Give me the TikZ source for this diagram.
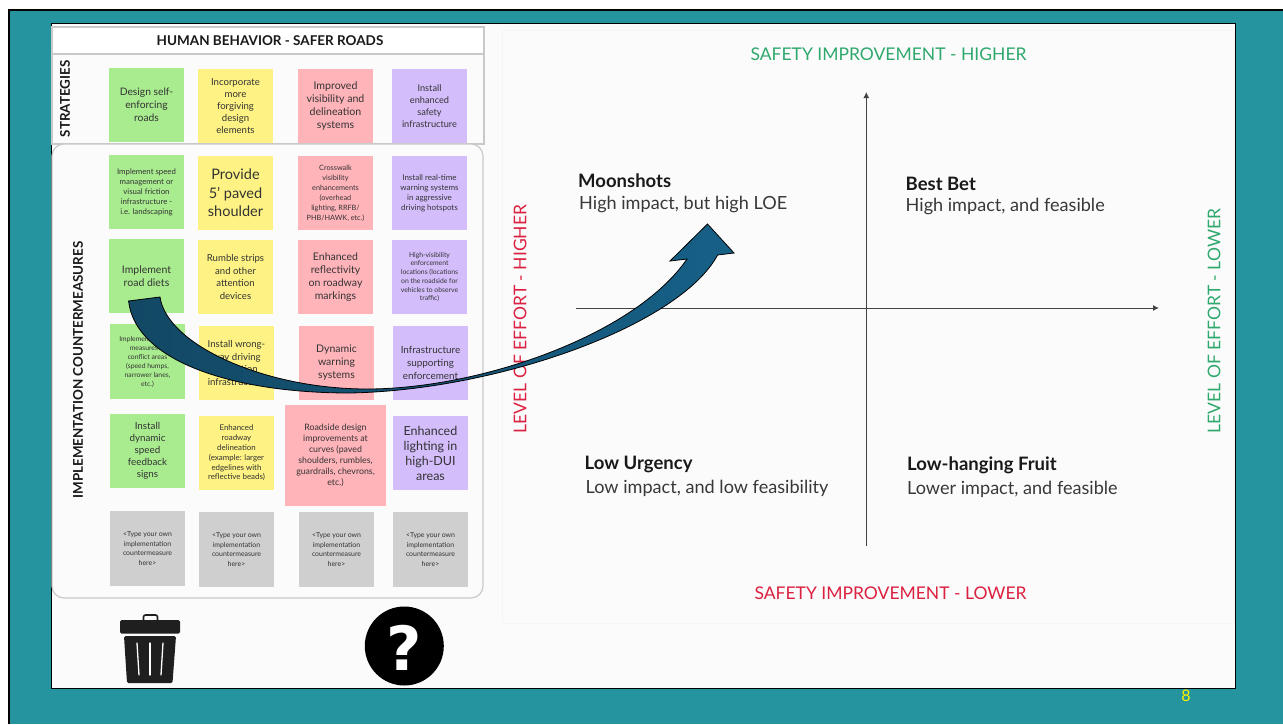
\documentclass[tikz,border=0pt]{standalone}
\usepackage{fontspec}
\setmainfont{Lato}
\newfontfamily\qfont{DejaVu Sans}
\usetikzlibrary{arrows.meta}
\definecolor{teal0}{HTML}{26949E}
\definecolor{paper}{HTML}{FBFBFB}
\definecolor{panelline}{HTML}{C9C9C9}
\definecolor{ngreen}{HTML}{A9EC90}
\definecolor{nyellow}{HTML}{FDF283}
\definecolor{npink}{HTML}{FFB4BA}
\definecolor{npurple}{HTML}{D3BDFB}
\definecolor{ngray}{HTML}{CFCFCF}
\definecolor{ink}{HTML}{333333}
\definecolor{goodgreen}{HTML}{2FA86E}
\definecolor{badred}{HTML}{DC2040}
\definecolor{axisgray}{HTML}{444444}
\definecolor{iconblack}{HTML}{1F1F1F}
\definecolor{arrowdark}{RGB}{18,72,100}
\definecolor{arrowlight}{RGB}{23,96,135}
\tikzset{
  notebox/.style={inner sep=0pt,align=center,text=ink},
  panel/.style={draw=panelline,line width=1.2pt},
  axisline/.style={draw=axisgray,line width=1pt,-{Latex[length=6pt,width=6pt]}},
  heading/.style={anchor=west,inner sep=0pt,font=\fontsize{18.5}{20}\selectfont\bfseries,text=black!90},
  subheading/.style={anchor=west,inner sep=0pt,font=\fontsize{18.1}{20}\selectfont,text=black!78},
  axistext/.style={inner sep=0pt,font=\fontsize{17.5}{20}\selectfont},
  sidetitle/.style={inner sep=0pt,rotate=90,font=\fontsize{13.4}{15}\selectfont\bfseries,text=black!90},
}
\newcommand{\notecard}[9]{%
  \node[notebox,fill=#6,minimum width={(#4-#2)*1pt},minimum height={(#5-#3)*1pt},
        font=\fontsize{#7}{#8}\selectfont] (#1) at ({(#2+#4)/2},{(#3+#5)/2}) {#9};}
\begin{document}
\begin{tikzpicture}[x=1pt,y=-1pt]
\useasboundingbox (0,0) rectangle (1283,724);
\fill[white] (0,0) rectangle (1283,724);
\fill[black] (8,9) rectangle (1283,724);
\fill[teal0] (10,11) rectangle (1283,724);
\draw[fill=paper,draw=black,line width=1pt] (51,23) rectangle (1235,688);
% right panel
\draw[draw=black!4,fill=paper] (502,30) rectangle (1234.5,623);
% left panels
\draw[panel,fill=white] (52,27) rectangle (484,54);
\draw[panel,fill=paper] (52,54) rectangle (484,144);
\draw[panel,fill=paper,rounded corners=12pt] (52,144) rectangle (483,598);
\node[inner sep=0pt,font=\fontsize{13.5}{15}\selectfont\bfseries,text=black!90] (maintitle) at (270,41) {HUMAN BEHAVIOR - SAFER ROADS};
\node[sidetitle] (strategies) at (65,99) {STRATEGIES};
\node[sidetitle] (impl) at (78,370) {IMPLEMENTATION COUNTERMEASURES};
% strategies
\notecard{s1}{109}{68}{184}{142}{ngreen}{10.3}{13}{Design self-\\enforcing\\roads}
\notecard{s2}{198}{69}{273}{143}{nyellow}{9.6}{12}{Incorporate\\more\\forgiving\\design\\elements}
\notecard{s3}{298}{69}{373}{143}{npink}{10.6}{13}{Improved\\visibility and\\delineation\\systems}
\notecard{s4}{392}{69}{467}{143}{npurple}{9.2}{12}{Install\\enhanced\\safety\\infrastructure}
% row 1
\notecard{a1}{109}{155}{184}{229}{ngreen}{7.8}{10}{Implement speed\\management or\\visual friction\\infrastructure -\\i.e. landscaping}
\notecard{a2}{198}{156}{273}{230}{nyellow}{14.5}{18.5}{Provide\\5' paved\\shoulder}
\notecard{a3}{298}{156}{373}{230}{npink}{7.3}{10}{Crosswalk\\visibility\\enhancements\\(overhead\\lighting, RRFB/\\PHB/HAWK, etc.)}
\notecard{a4}{392}{156}{467}{230}{npurple}{8}{10}{Install real-time\\warning systems\\in aggressive\\driving hotspots}
% row 2
\notecard{b1}{109}{239}{184}{313}{ngreen}{10.5}{13}{Implement\\road diets}
\notecard{b2}{198}{240}{273}{314}{nyellow}{9.6}{12.5}{Rumble strips\\and other\\attention\\devices}
\notecard{b3}{298}{240}{373}{314}{npink}{10.5}{13}{Enhanced\\reflectivity\\on roadway\\markings}
\notecard{b4}{392}{240}{467}{314}{npurple}{6.8}{8.7}{High-visibility\\enforcement\\locations (locations\\on the roadside for\\vehicles to observe\\traffic)}
% row 3
\notecard{c1}{110}{324}{185}{399}{ngreen}{6.8}{9}{Implement calming\\measures in\\conflict areas\\(speed humps,\\narrower lanes,\\etc.)}
\notecard{c2}{199}{326}{274}{400}{nyellow}{9.6}{12.5}{Install wrong-\\way driving\\mitigation\\infrastructure}
\notecard{c3}{299}{326}{374}{400}{npink}{10.5}{13}{Dynamic\\warning\\systems}
\notecard{c4}{393}{326}{468}{400}{npurple}{9.9}{13}{Infrastructure\\supporting\\enforcement}
% row 4
\notecard{d1}{110}{414}{185}{488}{ngreen}{9.8}{12}{Install\\dynamic\\speed\\feedback\\signs}
\notecard{d2}{199}{416}{274}{490}{nyellow}{7.9}{9.8}{Enhanced\\roadway\\delineation\\(example: larger\\edgelines with\\reflective beads)}
\notecard{d3}{285}{405}{386}{506}{npink}{8.8}{11}{Roadside design\\improvements at\\curves (paved\\shoulders, rumbles,\\guardrails, chevrons,\\etc.)}
\notecard{d4}{393}{416}{468}{490}{npurple}{12.5}{15}{Enhanced\\lighting in\\high-DUI\\areas}
% row 5
\notecard{e1}{110}{511}{185}{586}{ngray}{6.9}{9.7}{<Type your own\\implementation\\countermeasure\\here>}
\notecard{e2}{199}{512}{274}{587}{ngray}{6.9}{9.7}{<Type your own\\implementation\\countermeasure\\here>}
\notecard{e3}{299}{512}{374}{587}{ngray}{6.9}{9.7}{<Type your own\\implementation\\countermeasure\\here>}
\notecard{e4}{393}{512}{468}{587}{ngray}{6.9}{9.7}{<Type your own\\implementation\\countermeasure\\here>}
% axes
\coordinate (vbottom) at (866.3,545.7);
\coordinate (vtop) at (866.3,92);
\coordinate (hleft) at (576,308);
\coordinate (hright) at (1159,308);
\draw[axisline] (vbottom) -- (vtop);
\draw[axisline] (hleft) -- (hright);
% axis labels
\node[axistext,text=goodgreen] (safehigh) at (888.5,54) {SAFETY IMPROVEMENT - HIGHER};
\node[axistext,text=badred] (safelow) at (890.5,593) {SAFETY IMPROVEMENT - LOWER};
\node[axistext,text=badred,rotate=90] (loehigh) at (520,319) {LEVEL OF EFFORT - HIGHER};
\node[axistext,text=goodgreen,rotate=90] (loelow) at (1214,321) {LEVEL OF EFFORT - LOWER};
% quadrants
\node[heading] (q1) at (578,180.5) {Moonshots};
\node[subheading] (q1s) at (579,204) {High impact, but high LOE};
\node[heading] (q2) at (905.5,183.5) {Best Bet};
\node[subheading] (q2s) at (905.5,206.5) {High impact, and feasible};
\node[heading] (q3) at (584.5,464.5) {Low Urgency};
\node[subheading] (q3s) at (585.5,488) {Low impact, and low feasibility};
\node[heading] (q4) at (907,465) {Low-hanging Fruit};
\node[subheading] (q4s) at (907,489) {Lower impact, and feasible};
% trash icon
\fill[iconblack,rounded corners=1.5pt] (120,620) rectangle (180,633.5);
\draw[iconblack,line width=1.6pt,rounded corners=2pt] (143.5,620) -- (143.5,615) -- (157.5,615) -- (157.5,620);
\fill[iconblack,rounded corners=1.5pt] (124,636) -- (176,636) -- (172.5,683) -- (127,683) -- cycle;
\draw[white,line width=1.3pt,line cap=round] (137,643) -- (139,675);
\draw[white,line width=1.3pt,line cap=round] (150,643) -- (150,675);
\draw[white,line width=1.3pt,line cap=round] (163,643) -- (161,675);
% help icon
\node[circle,fill=black,minimum size=79pt,inner sep=0pt] (help) at (404.3,646) {};
\node[inner sep=0pt,text=white,font=\qfont\fontsize{61}{61}\selectfont\bfseries] (helpq) at (404.3,647.5) {?};
% page number
\node[inner sep=0pt,text=yellow,font=\fontsize{16}{18}\selectfont] (pagenum) at (1186,695.5) {8};
% block arrow
\path[draw=black,line width=0.8pt,left color=arrowdark,right color=arrowlight]
  (128.6,301) .. controls (135,360) and (230,393) .. (350,393)
  .. controls (500,390) and (680,325) .. (717.6,255)
  -- (734,253) -- (707.5,224) -- (670,261) -- (687,259)
  .. controls (635,335) and (480,389) .. (367,389)
  .. controls (265,389) and (167,345) .. (160,297)
  -- cycle;
\end{tikzpicture}
\end{document}
